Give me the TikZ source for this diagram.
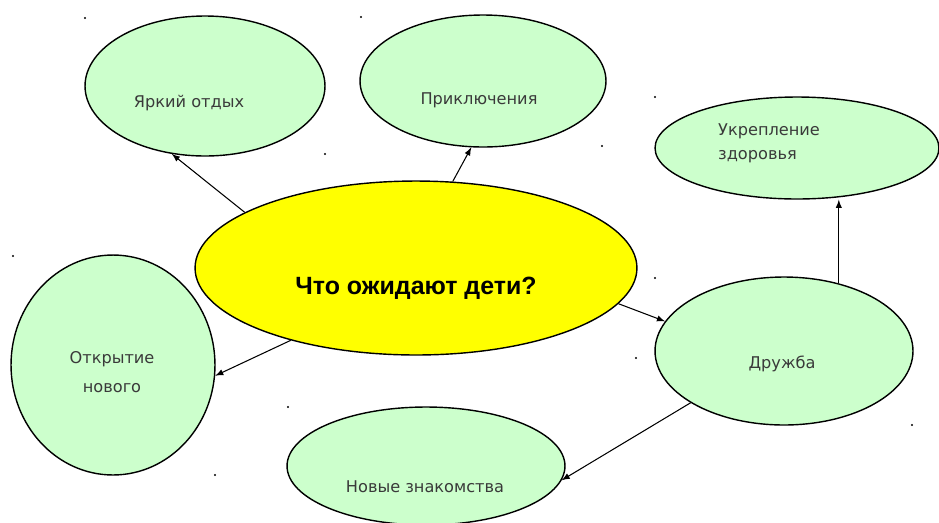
\documentclass[tikz,border=0pt]{standalone}
\usepackage{fontspec}
\setmainfont{DejaVu Sans}
\newfontfamily\headfont{Liberation Sans}
\usetikzlibrary{shapes.geometric,calc}
\definecolor{mint}{HTML}{CCFFCC}
\definecolor{sun}{HTML}{FFFF00}
\definecolor{ink}{HTML}{3A3A3A}

\begin{document}
\begin{tikzpicture}[x=0.02cm,y=-0.02cm]
  \useasboundingbox (0,0) rectangle (939,522);
  \begin{scope}[
    every node/.style={
      ellipse,
      draw,
      line width=0.8pt,
      fill=mint,
      inner sep=0pt,
    },
    ]
    \node[fill=sun,minimum width=8.84cm,minimum height=3.48cm] (goal) at (416,268) {};
    \node[minimum width=4.8cm,minimum height=2.8cm]   (rest)      at (205,86)  {};
    \node[minimum width=4.92cm,minimum height=2.64cm] (adventure) at (483,81)  {};
    \node[minimum width=5.68cm,minimum height=2.04cm] (health)    at (797,148) {};
    \node[minimum width=4.08cm,minimum height=4.4cm]  (discovery) at (113,365) {};
    \node[minimum width=5.16cm,minimum height=2.96cm] (friends)   at (784,351) {};
    \node[minimum width=5.56cm,minimum height=2.36cm] (acquaint)  at (426,466) {};
  \end{scope}
  \begin{scope}[
    every node/.style={
      align=center,
      text=ink,
      font=\fontsize{9.2}{13.7}\selectfont,
    },
    ]
    \node (resttext)      at ($(rest)+(-16,17)$)      {Яркий отдых};
    \node (adventuretext) at ($(adventure)+(-4,19)$)  {Приключения};
    \node[anchor=west,align=left] (healthtext) at (712,143) {Укрепление\\здоровья};
    \node (discoverytext) at ($(discovery)+(-1,7)$)   {Открытие\\[2.8pt]нового};
    \node (friendstext)   at ($(friends)+(-2,13)$)    {Дружба};
    \node (acquainttext)  at ($(acquaint)+(-1,21)$)   {Новые знакомства};
    \node[text=black,font=\headfont\bfseries\fontsize{14.2}{16}\selectfont]
      (goaltext) at ($(goal)+(0,20)$) {Что ожидают дети?};
  \end{scope}
  \begin{scope}[
    every path/.style={line width=0.6pt,>=latex},
    ]
    \path[->]
    (goal.162)    edge (rest.244)
    (goal.67)     edge (adventure.260)
    (goal.-10.5)  edge (friends.166)
    (friends.51)  edge (friends.51 |- health.south)
    (goal.210)    edge (discovery.-6)
    (friends.209) edge (acquaint.-6);
  \end{scope}
  % stray dots
  \foreach \p in {(85,18),(361,17),(325,154),(602,146),(655,97),(655,278),
                  (912,425),(13,256),(636,358),(288,407),(215,475)}
    \fill \p circle (0.6pt);
\end{tikzpicture}
\end{document}
